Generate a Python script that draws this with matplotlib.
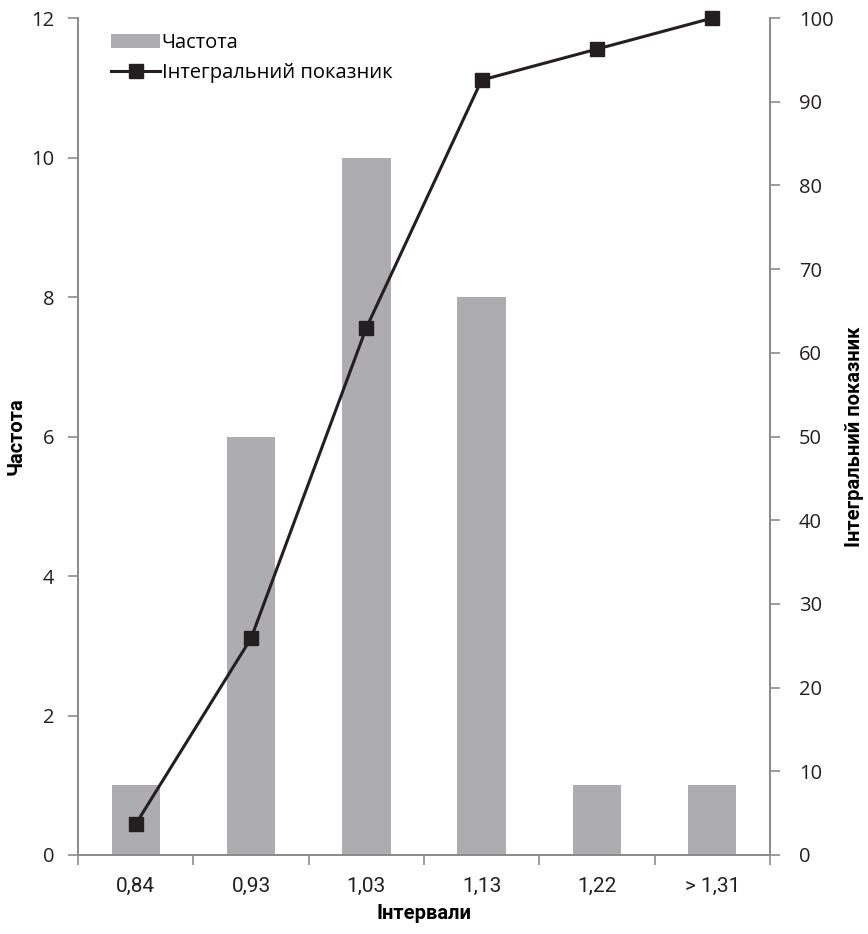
import matplotlib
matplotlib.use('Agg')
import matplotlib.pyplot as plt
import numpy as np

# Data
categories = ['0,84', '0,93', '1,03', '1,13', '1,22', '> 1,31']
frequency = [1, 6, 10, 8, 1, 1]
cumulative = [3.7, 25.9, 63.0, 92.6, 96.3, 100.0]

plt.rcParams['font.family'] = ['Open Sans', 'DejaVu Sans']
narrow = ['Roboto', 'DejaVu Sans']

bar_color = '#ADADB0'
line_color = '#231F20'
spine_color = '#8C8C8C'

fig = plt.figure(figsize=(8.68, 9.34), dpi=100)
ax = fig.add_axes([0.09, 0.0846, 0.797, 0.896])
ax2 = ax.twinx()

x = np.arange(len(categories))
bars = ax.bar(x, frequency, width=0.42, color=bar_color, label='Частота', zorder=2)
line, = ax2.plot(x, cumulative, color=line_color, lw=2.2, marker='s', markersize=10,
                 label='Інтегральний показник', zorder=3, clip_on=False)

ax.set_xlim(-0.5, len(categories) - 0.5)
ax.set_ylim(0, 12)
ax2.set_ylim(0, 100)
ax.set_yticks(range(0, 13, 2))
ax2.set_yticks(range(0, 101, 10))

ax.set_xticks(x)
ax.set_xticklabels(categories, family=narrow, fontsize=15)
ax.set_xticks(np.arange(-0.5, len(categories)), minor=True)
ax.tick_params(axis='x', which='major', length=0, pad=16)
ax.tick_params(axis='x', which='minor', length=7, color=spine_color, width=1.2)
ax.tick_params(axis='y', length=7, color=spine_color, width=1.2, pad=10, labelsize=14.5)
ax2.tick_params(axis='y', length=7, color=spine_color, width=1.2, pad=14, labelsize=14.5)
for a in (ax, ax2):
    a.tick_params(labelcolor='#231F20')
    for s in a.spines.values():
        s.set_color(spine_color)
        s.set_linewidth(1.4)
    a.spines['top'].set_visible(False)

ax.set_xlabel('Інтервали', family=narrow, fontsize=14.5, fontweight='bold')
ax.set_ylabel('Частота', family=narrow, fontsize=14.5, fontweight='bold')
ax2.set_ylabel('Інтегральний показник', family=narrow, fontsize=14.5, fontweight='bold')
ax.xaxis.set_label_coords(0.5, -0.058)
ax.yaxis.set_label_coords(-0.076, 0.5)
ax2.yaxis.set_label_coords(1.109, 0.5)

ax.legend([bars, line], ['Частота', 'Інтегральний показник'], loc='upper left',
          bbox_to_anchor=(0.022, 1.004), frameon=False, fontsize=14.5,
          handlelength=2.4, handletextpad=0.1, labelspacing=0.5)

fig.savefig('out.png', dpi=100)
